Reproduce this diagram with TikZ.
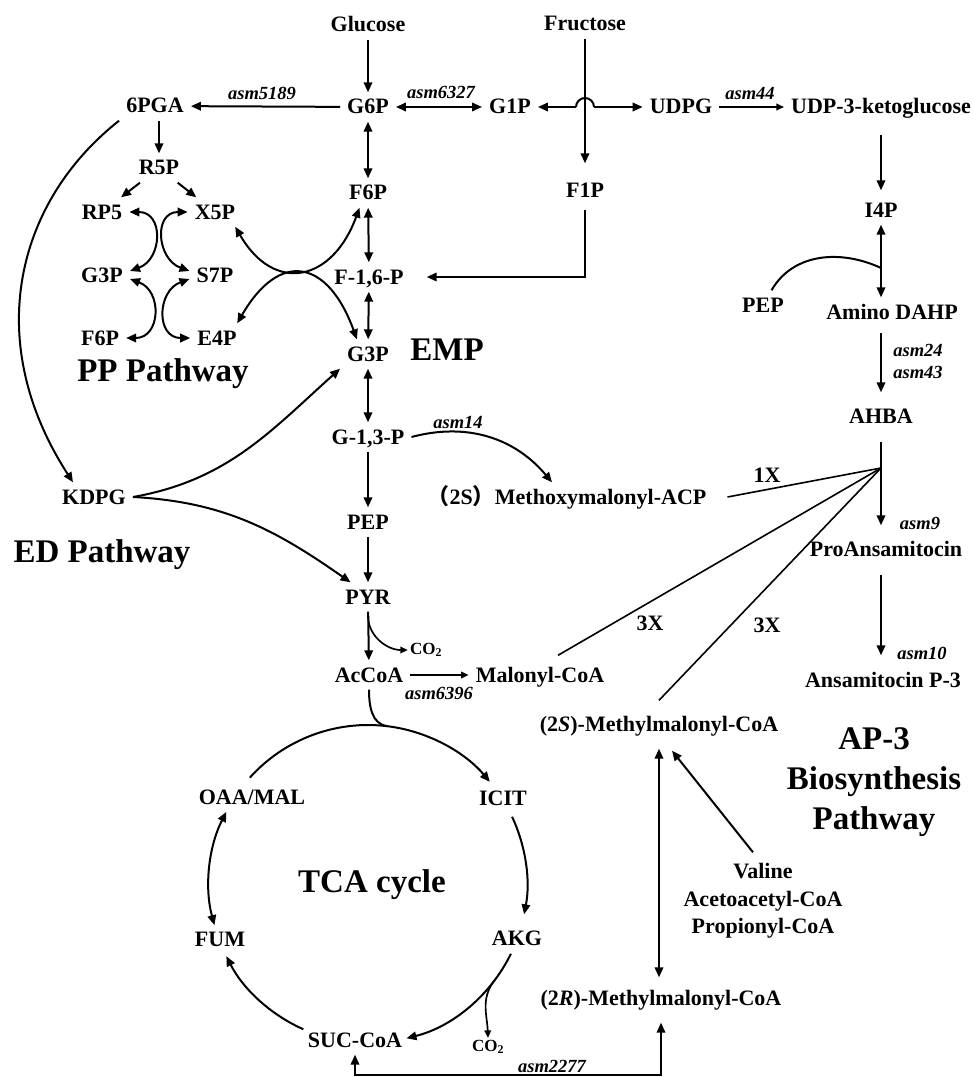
\documentclass[tikz,border=0pt]{standalone}
\usepackage{fontspec}
\setmainfont{Liberation Serif}
\newfontfamily\cjk{Noto Sans CJK SC}
\usetikzlibrary{arrows.meta,calc}
\tikzset{
  mtext/.style ={font=\fontsize{22}{27.5}\selectfont\bfseries},
  met/.style   ={mtext, text height=16pt, text depth=2pt,
                 inner xsep=7pt, inner ysep=5.5pt},
  gene/.style  ={font=\fontsize{18.5}{22}\selectfont\bfseries\itshape,
                 inner sep=1pt, align=left},
  gas/.style   ={font=\fontsize{17}{20}\selectfont\bfseries, inner sep=2pt},
  bigl/.style  ={font=\fontsize{33}{40}\selectfont\bfseries, align=center},
  rx/.style    ={-{Triangle[length=10pt,width=8.5pt]}, line width=2pt},
  rev/.style   ={{Triangle[length=10pt,width=8.5pt]}-{Triangle[length=10pt,width=8.5pt]},
                 line width=2pt},
  rxs/.style   ={-{Triangle[length=7.5pt,width=6.5pt]}, line width=1.7pt},
  flux/.style  ={line width=2pt},
  unit/.style  ={line width=1.6pt},
}

\begin{document}
\begin{tikzpicture}[x=1pt, y=1pt]
  \useasboundingbox (0,0) rectangle (973,-1078);

  % EMP
  \node[met] (glc)    at (368,-25)  {Glucose};
  \node[met] (g6p)    at (368,-107) {G6P};
  \node[met] (f6p)    at (368,-193) {F6P};
  \node[met] (fbp)    at (369,-277) {F-1,6-P};
  \node[met] (g3p)    at (368,-354) {G3P};
  \node[met] (g13p)   at (368,-437) {G-1,3-P};
  \node[met] (pepe)   at (368,-522) {PEP};
  \node[met] (pyr)    at (368,-597) {PYR};
  \node[met] (aca)    at (369,-675) {AcCoA};
  \node[gas] (co2a)   at (426,-650) {CO\textsubscript{2}};
  \node[met] (malcoa) at (540,-675) {Malonyl-CoA};
  \node[bigl] (emp)   at (447,-350) {EMP};

  % fructose and UDPG branch
  \node[met] (fru)  at (585,-24)  {Fructose};
  \node[met] (g1p)  at (510,-107) {G1P};
  \node[met] (f1p)  at (585,-190) {F1P};
  \node[met] (udpg) at (681,-107) {UDPG};
  \node[met] (udpk) at (881,-107) {UDP-3-ketoglucose};
  \coordinate (hop) at (585,-107);

  % PP pathway
  \node[met] (pga)   at (155,-106) {6PGA};
  \node[met] (r5p)   at (159,-168) {R5P};
  \node[met] (rp5)   at (102,-212) {RP5};
  \node[met] (x5p)   at (215,-212) {X5P};
  \node[met] (ppg3p) at (102,-275) {G3P};
  \node[met] (s7p)   at (215,-275) {S7P};
  \node[met] (ppf6p) at (100,-338) {F6P};
  \node[met] (e4p)   at (217,-338) {E4P};
  \node[bigl] (ppl)  at (163,-374) {PP Pathway};

  % ED pathway
  \node[met] (kdpg) at (94,-497) {KDPG};
  \node[bigl] (edl) at (102,-555) {ED Pathway};

  % AHBA and AP-3
  \node[met] (i4p)    at (881,-210) {I4P};
  \node[met] (pepr)   at (763,-305) {PEP};
  \node[met] (dahp)   at (892,-312) {Amino DAHP};
  \coordinate (pepj)  at (881,-268);
  \node[met] (ahba)   at (881,-416) {AHBA};
  \coordinate (ahbj)  at (881,-468);
  \node[met] (proans) at (886,-549) {ProAnsamitocin};
  \node[met] (ap3)    at (883,-680) {Ansamitocin P-3};
  \node[met] (mmacp)  at (567,-497) {{\cjk （}2S{\cjk ）}Methoxymalonyl-ACP};
  \node[met] (mm2s)   at (659,-724) {(2\textit{S})-Methylmalonyl-CoA};
  \node[met] (mm2r)   at (661,-998) {(2\textit{R})-Methylmalonyl-CoA};
  \node[mtext, align=center, inner sep=3pt] (val) at (763,-901)
        {Valine\\Acetoacetyl-CoA\\Propionyl-CoA};
  \node[bigl] (apl) at (874,-782) {AP-3\\Biosynthesis\\Pathway};

  % TCA cycle
  \coordinate (tca) at (368,-884);
  \node[met] (oaa)   at (252,-797)  {OAA/MAL};
  \node[met] (icit)  at (503,-798)  {ICIT};
  \node[met] (akg)   at (517,-938)  {AKG};
  \node[met] (sucoa) at (355,-1040) {SUC-CoA};
  \node[met] (fum)   at (220,-939)  {FUM};
  \node[gas] (co2b)  at (488,-1047) {CO\textsubscript{2}};
  \node[bigl] (tcal) at (372,-885)  {TCA cycle};
  \coordinate (bot) at (0,-1075);

  % gene labels
  \node[gene] (l5189) at (262,-93)   {asm5189};
  \node[gene] (l6327) at (441,-92)   {asm6327};
  \node[gene] (l44)   at (750,-94)   {asm44};
  \node[gene] (l2443) at (918,-361)  {asm24\\asm43};
  \node[gene] (l14)   at (458,-422)  {asm14};
  \node[gene] (l9)    at (920,-523)  {asm9};
  \node[gene] (l10)   at (922,-653)  {asm10};
  \node[gene] (l6396) at (439,-693)  {asm6396};
  \node[gene] (l2277) at (552,-1066) {asm2277};
  \node[mtext] (n1x)  at (767,-475)  {1X};
  \node[mtext] (n3xa) at (650,-623)  {3X};
  \node[mtext] (n3xb) at (767,-625)  {3X};

  % EMP connectors
  \draw[rx]  (glc) -- (g6p);
  \draw[rx]  (g6p) -- (pga);
  \draw[rev] (g6p) -- (g1p);
  \draw[rev] (g6p) -- (f6p);
  \draw[rev] (f6p) -- (fbp);
  \draw[rev] (fbp) -- (g3p);
  \draw[rev] (g3p) -- (g13p);
  \draw[rx]  (g13p) -- (pepe);
  \draw[rx]  (pepe) -- (pyr);
  \draw[rx]  (pyr) -- (aca);
  \draw[rxs] ([yshift=-4pt]pyr.south) to[out=-90, in=180] (co2a.west);
  \draw[rxs] (aca) -- (malcoa);
  \draw[flux] (aca.south) to[out=-90, in=173] ([shift={(83:159)}]tca);

  % fructose
  \draw[rx, shorten >=12pt] (fru) -- (f1p);
  \draw[rx] ([xshift=-9pt]hop) -- (g1p);
  \draw[rx] ([xshift=9pt]hop) -- (udpg);
  \draw[flux] ([xshift=-9pt]hop) arc[start angle=180, end angle=0, radius=9];
  \draw[rx, shorten <=5pt] (f1p.south) |- ([xshift=16pt]fbp.east);
  \draw[rxs] (udpg) -- (udpk);

  % PP pathway
  \draw[rx] (r5p |- pga.south) -- (r5p);
  \draw[rx] (r5p) -- (rp5);
  \draw[rx] (r5p) -- (x5p);
  \draw[rev] (rp5.east) to[out=0, in=20, looseness=1.5] ([yshift=4pt]ppg3p.east);
  \draw[rev] ([yshift=-4pt]ppg3p.east) to[out=-20, in=0, looseness=1.5] (ppf6p.east);
  \draw[rev] (x5p.west) to[out=180, in=160, looseness=1.5] ([yshift=4pt]s7p.west);
  \draw[rev] ([yshift=-4pt]s7p.west) to[out=200, in=180, looseness=1.5] (e4p.west);
  \draw[rev] (x5p.-36) to[out=-60, in=-110, looseness=1.6] (f6p.-120);
  \draw[rev] (e4p.36) to[out=60, in=110, looseness=1.8] (g3p.127);

  % ED pathway
  \draw[rx] (pga.south west) .. controls (17,-201) and (-19,-340) .. (kdpg.145);
  \draw[rx] (kdpg.east) to[out=10, in=222] (g3p.south west);
  \draw[rx] (kdpg.east) to[out=-3, in=145] (pyr.140);

  % AHBA and AP-3
  \draw[rx, shorten <=13pt, shorten >=5pt] (i4p |- udpk.south) -- (i4p);
  \draw[rev] (i4p) -- (i4p |- dahp.north);
  \draw[flux] (pepr.60) to[out=60, in=155] (pepj);
  \draw[rx, shorten <=6pt, shorten >=9pt] (ahba |- dahp.south) -- (ahba);
  \draw[rx, shorten <=11pt, shorten >=9pt] (ahba) -- (ahba |- proans.north);
  \draw[rx, shorten <=11pt, shorten >=10pt] (ahba |- proans.south) -- (ahba |- ap3.north);
  \draw[rx] (g13p.east) to[out=15, in=130] ([xshift=-15pt]mmacp.north);
  \draw[unit] ([xshift=14pt]mmacp.east) -- (ahbj);
  \draw[unit] ([shift={(18pt,5pt)}]malcoa.north) -- (ahbj);
  \draw[unit] ([yshift=9pt]mm2s.north) -- (ahbj);

  % methylmalonyl-CoA
  \draw[rev, shorten <=10pt, shorten >=6pt] (mm2s) -- (mm2s |- mm2r.north);
  \draw[rx] ([shift={(-10pt,8pt)}]val.north) -- ([shift={(13pt,-12pt)}]mm2s.south);
  \draw[rev, shorten >=10pt] (sucoa.south) -- (sucoa.south |- bot) -| (mm2r.south);

  % TCA cycle
  \draw[rx]  ([shift={(138:159)}]tca) arc[start angle=138, end angle=40, radius=159];
  \draw[rx]  ([shift={(25:159)}]tca) arc[start angle=25, end angle=-11, radius=159];
  \draw[rx]  ([shift={(-26:159)}]tca) arc[start angle=-26, end angle=-76, radius=159];
  \draw[rx]  ([shift={(-114:159)}]tca) arc[start angle=-114, end angle=-153, radius=159];
  \draw[rev] ([shift={(-165:159)}]tca) arc[start angle=-165, end angle=-207, radius=159];
  \draw[rxs] ([shift={(-38:159)}]tca) to[out=-125, in=92] (co2b.north);
\end{tikzpicture}
\end{document}
